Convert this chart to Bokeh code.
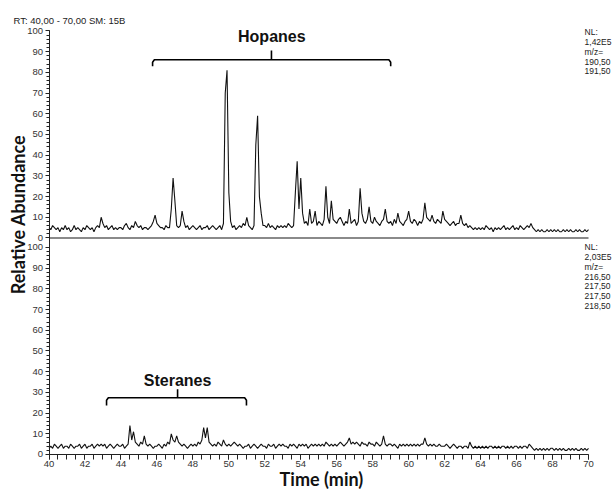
import numpy as np
from bokeh.plotting import figure
from bokeh.models import Range1d, FixedTicker, CustomJSTickFormatter, Label
from bokeh.embed import file_html
from bokeh.resources import INLINE

# retention time grid (min), 0.1 min steps from 40.0 to 70.0
time_min = [round(40 + i / 10, 1) for i in range(301)]

# m/z 191 trace (Hopanes), relative abundance %
hopanes_ab = [
    5, 4, 6, 5, 4, 5, 3, 5, 4, 6,
    4, 5, 3, 4, 6, 4, 5, 4, 3, 5,
    4, 6, 5, 4, 5, 3, 5, 6, 5, 10,
    7, 5, 6, 4, 5, 6, 4, 5, 4, 5,
    5, 4, 6, 7, 5, 4, 6, 5, 8, 6,
    5, 6, 4, 5, 5, 4, 5, 6, 8, 11,
    7, 6, 5, 5, 4, 6, 5, 5, 14, 29,
    18, 6, 5, 6, 13, 8, 5, 6, 4, 5,
    6, 5, 4, 5, 6, 4, 5, 5, 6, 4,
    5, 6, 5, 4, 5, 6, 4, 7, 70, 81,
    22, 8, 5, 6, 4, 5, 6, 5, 7, 6,
    10, 6, 5, 4, 6, 45, 59, 20, 12, 6,
    6, 5, 7, 5, 6, 5, 4, 6, 5, 6,
    5, 6, 5, 7, 6, 5, 6, 22, 37, 14,
    29, 12, 7, 8, 6, 14, 7, 8, 13, 6,
    8, 7, 6, 9, 25, 10, 7, 18, 9, 8,
    7, 9, 10, 8, 6, 8, 7, 14, 7, 8,
    9, 6, 8, 24, 12, 8, 7, 9, 15, 8,
    7, 10, 8, 7, 6, 8, 9, 14, 8, 7,
    8, 6, 9, 7, 12, 8, 7, 6, 8, 9,
    13, 8, 7, 9, 8, 6, 8, 7, 9, 17,
    10, 9, 8, 11, 8, 7, 9, 8, 7, 13,
    9, 8, 7, 6, 7, 8, 6, 7, 7, 11,
    7, 6, 7, 5, 6, 5, 4, 5, 4, 5,
    4, 5, 4, 6, 5, 4, 5, 3, 5, 4,
    5, 4, 5, 6, 4, 5, 4, 5, 6, 4,
    5, 4, 6, 5, 4, 5, 6, 5, 7, 5,
    4, 3, 4, 3, 4, 3, 3, 4, 3, 4,
    3, 4, 3, 4, 3, 3, 4, 3, 4, 3,
    4, 3, 3, 4, 3, 4, 3, 3, 4, 3,
    4,
]

# m/z 217 trace (Steranes), relative abundance %
steranes_ab = [
    3, 4, 3, 5, 4, 3, 4, 5, 3, 4,
    4, 3, 5, 4, 3, 4, 4, 5, 3, 4,
    5, 3, 4, 4, 5, 3, 4, 5, 4, 5,
    4, 5, 3, 4, 5, 4, 3, 4, 5, 4,
    4, 5, 3, 4, 5, 14, 7, 11, 6, 5,
    4, 6, 5, 9, 5, 4, 5, 4, 3, 4,
    4, 5, 4, 3, 5, 4, 6, 5, 10, 7,
    6, 9, 6, 5, 4, 5, 4, 3, 4, 5,
    4, 5, 4, 6, 5, 7, 13, 8, 13, 6,
    5, 4, 5, 4, 6, 5, 4, 7, 5, 4,
    5, 4, 5, 6, 5, 4, 5, 4, 3, 4,
    4, 5, 3, 4, 5, 4, 3, 4, 5, 4,
    4, 3, 5, 4, 4, 5, 3, 4, 5, 4,
    5, 4, 4, 3, 5, 4, 5, 4, 3, 5,
    4, 5, 4, 5, 3, 4, 5, 4, 5, 4,
    5, 4, 5, 4, 6, 5, 4, 5, 4, 5,
    4, 5, 6, 5, 4, 5, 6, 8, 5, 6,
    5, 6, 5, 4, 6, 5, 5, 4, 6, 5,
    5, 4, 6, 5, 4, 5, 9, 5, 4, 5,
    5, 4, 5, 4, 3, 5, 4, 5, 4, 5,
    4, 5, 4, 5, 4, 5, 4, 5, 5, 8,
    5, 4, 5, 4, 5, 4, 4, 5, 4, 4,
    4, 5, 4, 3, 4, 5, 4, 3, 4, 4,
    3, 4, 4, 3, 6, 4, 3, 4, 3, 4,
    3, 4, 3, 4, 3, 4, 4, 3, 4, 3,
    4, 3, 4, 4, 3, 4, 3, 4, 3, 4,
    4, 3, 4, 3, 4, 4, 3, 5, 4, 3,
    2, 3, 2, 3, 2, 3, 2, 3, 2, 3,
    3, 2, 3, 2, 3, 2, 3, 2, 2, 3,
    2, 3, 2, 3, 2, 2, 3, 2, 3, 2,
    3,
]

x_ticks = list(range(40, 71, 2))
x_minor = [40 + i * 0.5 for i in range(61)]
y_ticks = list(range(0, 101, 10))
y_minor = list(range(0, 101, 2))

notes_top = ["NL:", "1,42E5", "m/z=", "190,50", "191,50"]
notes_bot = ["NL:", "2,03E5", "m/z=", "216,50", "217,50", "217,50", "218,50"]
header = "RT: 40,00 - 70,00  SM: 15B"

OFF = 104.6                 # where the upper trace's zero sits on the lower scale
X_RANGE = (37.303, 71.557)  # frame covers the whole canvas; axes drawn at fixed spots
Y_RANGE = (-16.908, 219.32)
NOTE_STEP = 4.73            # line spacing of the side notes, in scale units

p = figure(width=616, height=489, x_range=Range1d(*X_RANGE), y_range=Range1d(*Y_RANGE),
           output_backend="svg", toolbar_location=None,
           min_border_left=0, min_border_right=0, min_border_top=0, min_border_bottom=0)
p.extra_y_ranges = {"top": Range1d(Y_RANGE[0] - OFF, Y_RANGE[1] - OFF)}
p.outline_line_color = None
p.xgrid.visible = False
p.ygrid.visible = False

TICK_FONT = "Liberation Sans"
for ax in (p.xaxis[0], p.yaxis[0]):
    ax.axis_line_color = "#222222"
    ax.major_tick_line_color = "#222222"
    ax.minor_tick_line_color = "#222222"
    ax.major_tick_in = 0
    ax.minor_tick_in = 0
    ax.major_tick_out = 4
    ax.minor_tick_out = 3
    ax.major_label_text_font = TICK_FONT
    ax.major_label_text_font_size = "9.5px"
    ax.major_label_text_color = "#333333"
    ax.major_label_standoff = 2

p.xaxis[0].ticker = FixedTicker(ticks=x_ticks, minor_ticks=x_minor)
p.xaxis[0].bounds = (40, 70)
p.xaxis[0].fixed_location = 0
p.xaxis[0].major_tick_out = 5
p.xaxis[0].minor_tick_out = 5

p.yaxis[0].ticker = FixedTicker(ticks=y_ticks + [OFF + t for t in y_ticks],
                                minor_ticks=y_minor + [OFF + t for t in y_minor])
p.yaxis[0].bounds = (0, OFF + 100)
p.yaxis[0].fixed_location = 40
p.yaxis[0].formatter = CustomJSTickFormatter(args=dict(off=OFF),
    code="return String(Math.round(tick > off - 0.01 ? tick - off : tick));")

# zero line of the upper trace (separator between the two panels)
p.line([time_min[0], time_min[-1]], [0, 0], y_range_name="top",
       line_color="#8a8a8a", line_width=2)

p.line(time_min, hopanes_ab, y_range_name="top", line_color="#111111", line_width=1.1)
p.line(time_min, steranes_ab, line_color="#111111", line_width=1.1)


def bracket(x0, x1, xc, yh, ye, yt, rng):
    kw = {} if rng is None else {"y_range_name": rng}
    p.line([x0, x0, x0 + 0.1, x1 - 0.1, x1, x1], [ye, yh - 1.2, yh, yh, yh - 1.2, ye],
           line_color="black", line_width=1.6, **kw)
    p.line([xc, xc], [yh, yt], line_color="black", line_width=1.6, **kw)


bracket(45.76, 59.0, 52.37, 86.1, 82.9, 90.6, "top")
bracket(43.2, 50.98, 47.15, 27.4, 23.7, 31.5, None)

p.add_layout(Label(x=52.39, y=97.3, y_range_name="top", text="Hopanes",
                   text_font="Liberation Sans", text_font_style="bold", text_font_size="16px",
                   text_align="center", text_baseline="middle", text_color="#111111"))
p.add_layout(Label(x=47.15, y=35.7, text="Steranes",
                   text_font="Liberation Sans", text_font_style="bold", text_font_size="16px",
                   text_align="center", text_baseline="middle", text_color="#111111"))

# header
p.add_layout(Label(x=38.03, y=105.1, y_range_name="top", text=header,
                   text_font="Liberation Sans", text_font_size="9.5px",
                   text_align="left", text_baseline="middle", text_color="#222222"))

# side notes
for i, t in enumerate(notes_top):
    p.add_layout(Label(x=69.78, y=99.4 - i * NOTE_STEP, y_range_name="top", text=t,
                       text_font="Liberation Sans", text_font_size="8.5px",
                       text_align="left", text_baseline="middle", text_color="#222222"))
for i, t in enumerate(notes_bot):
    p.add_layout(Label(x=69.78, y=100.1 - i * NOTE_STEP, text=t,
                       text_font="Liberation Sans", text_font_size="8.5px",
                       text_align="left", text_baseline="middle", text_color="#222222"))

# axis titles
p.add_layout(Label(x=38.3, y=115.9, text="Relative Abundance", angle=np.pi / 2,
                   text_font="Lato", text_font_style="bold", text_font_size="18px",
                   text_align="center", text_baseline="middle", text_color="#111111"))
p.add_layout(Label(x=55.15, y=-11.6, text="Time (min)",
                   text_font="Lato", text_font_style="bold", text_font_size="18px",
                   text_align="center", text_baseline="middle", text_color="#111111"))

open("out.html", "w").write(file_html(p, INLINE))
